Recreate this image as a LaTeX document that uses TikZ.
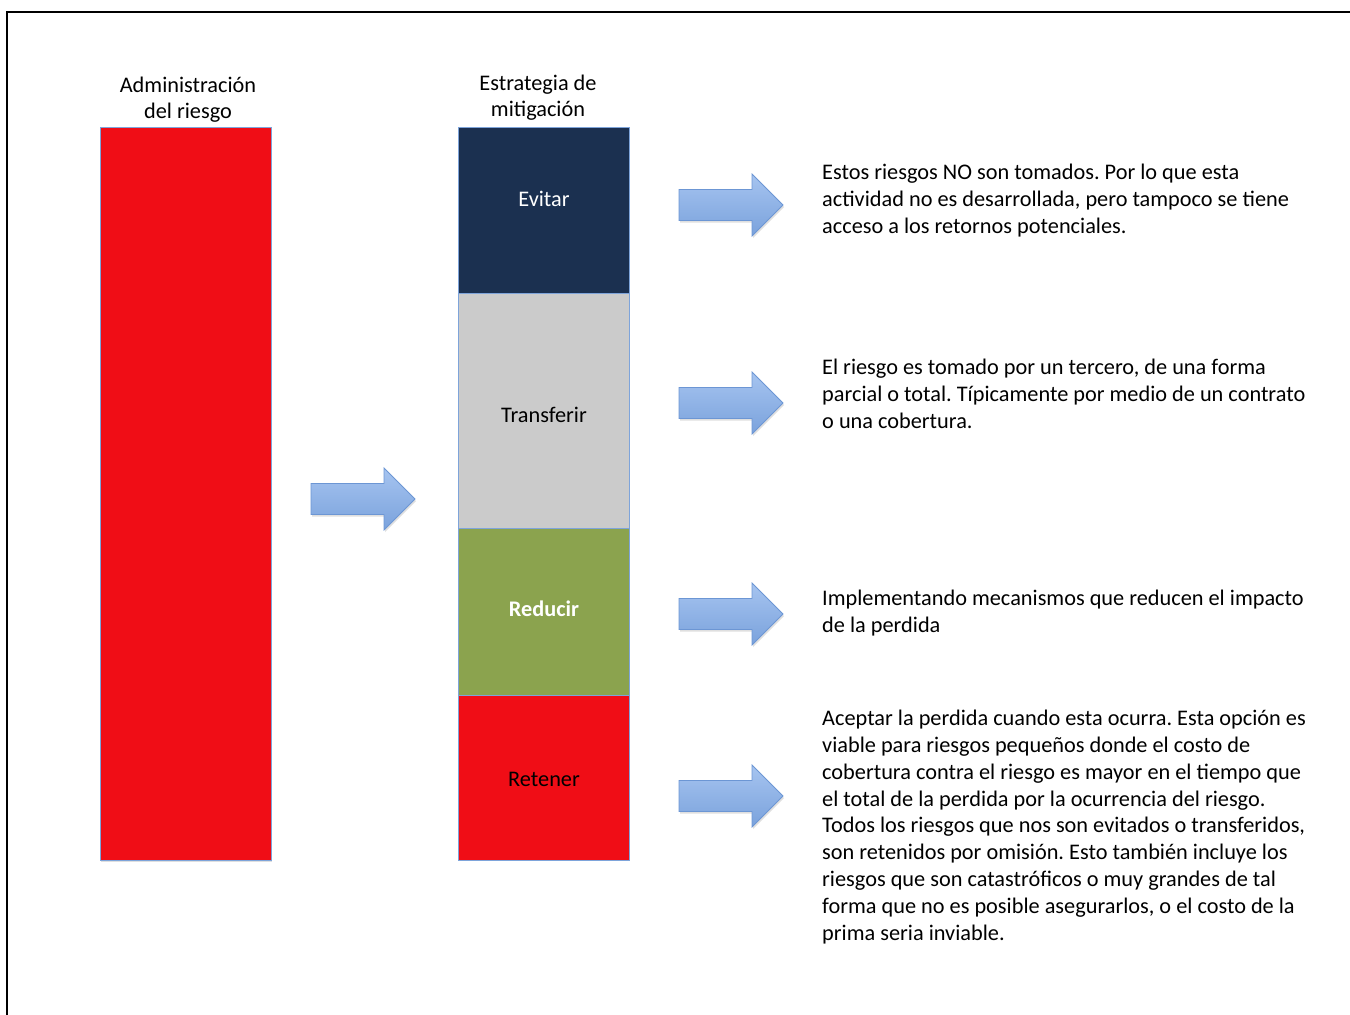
\documentclass[tikz,border=0pt]{standalone}
\usepackage{fontspec}
\setmainfont{Carlito}
\usetikzlibrary{shadows}
\frenchspacing
\definecolor{navybox}{RGB}{27,48,80}
\definecolor{graybox}{RGB}{203,203,203}
\definecolor{greenbox}{RGB}{139,163,78}
\definecolor{redbox}{RGB}{240,13,22}
\definecolor{boxedge}{RGB}{126,164,218}
\definecolor{arrowtop}{RGB}{166,196,240}
\definecolor{arrowbot}{RGB}{122,162,220}
\definecolor{arrowedge}{RGB}{108,150,212}
\tikzset{
  stackbox/.style={draw=boxedge, line width=1pt, minimum width=171pt, inner sep=0pt},
  shadowbox/.style={stackbox, drop shadow={opacity=0.25, shadow xshift=1pt, shadow yshift=-2pt}},
  boxlabel/.style={font=\fontsize{22.3}{26}\selectfont, inner sep=0pt},
  headlabel/.style={font=\fontsize{22.3}{26}\selectfont, align=center, inner sep=0pt},
  desc/.style={font=\fontsize{22.3}{26.8}\selectfont, align=left, anchor=north west, inner sep=0pt},
  blockarrow/.style={draw=arrowedge, line width=0.8pt, top color=arrowtop, bottom color=arrowbot,
    drop shadow={opacity=0.25, shadow xshift=1pt, shadow yshift=-2pt}},
  pics/fatarrow/.style={code={
    \path[blockarrow] (0,-15.5) -- (73,-15.5) -- (73,-31) -- (104,0) -- (73,31) -- (73,15.5) -- (0,15.5) -- cycle;
  }}
}
\begin{document}
\begin{tikzpicture}[x=1pt,y=-1pt]
\useasboundingbox (0,0) rectangle (1350,1015);
\draw[line width=2.5pt] (7,1016) -- (7,12) -- (1351,12);

% headings
\node[headlabel] (hadm) at (188,99.5) {Administración\\del riesgo};
\node[headlabel] (hest) at (538,97.5) {Estrategia de\\mitigación};

% big red box
\node[shadowbox, fill=redbox, minimum height=733pt] (adm) at (185.5,493.5) {};

% stack
\node[shadowbox, fill=navybox, minimum height=166pt] (evitar) at (543.5,210) {};
\node[stackbox, fill=graybox, minimum height=235pt] (transf) at (543.5,410.5) {};
\node[stackbox, fill=greenbox, minimum height=167pt] (reducir) at (543.5,611.5) {};
\node[stackbox, fill=redbox, minimum height=165pt] (retener) at (543.5,777.5) {};

\node[boxlabel, text=white] (levitar) at (544,199) {Evitar};
\node[boxlabel, text=black] (ltransf) at (544,415) {Transferir};
\node[boxlabel, text=white, font=\fontsize{22.3}{26}\selectfont\bfseries] (lreducir) at (544,609) {Reducir};
\node[boxlabel, text=black] (lretener) at (544,779) {Retener};

% arrows
\pic at (311,499) {fatarrow};
\pic at (679,205) {fatarrow};
\pic at (679,403) {fatarrow};
\pic at (679,614) {fatarrow};
\pic at (679,796) {fatarrow};

% descriptions
\node[desc] (d1) at (822,164) {Estos riesgos NO son tomados. Por lo que esta\\actividad no es desarrollada, pero tampoco se tiene\\acceso a los retornos potenciales.};
\node[desc] (d2) at (822,359) {El riesgo es tomado por un tercero, de una forma\\parcial o total. Típicamente por medio de un contrato\\o una cobertura.};
\node[desc] (d3) at (822,590) {Implementando mecanismos que reducen el impacto\\de la perdida};
\node[desc] (d4) at (822,710) {Aceptar la perdida cuando esta ocurra. Esta opción es\\viable para riesgos pequeños donde el costo de\\cobertura contra el riesgo es mayor en el tiempo que\\el total de la perdida por la ocurrencia del riesgo.\\Todos los riesgos que nos son evitados o transferidos,\\son retenidos por omisión. Esto también incluye los\\riesgos que son catastróficos o muy grandes de tal\\forma que no es posible asegurarlos, o el costo de la\\prima seria inviable.};
\end{tikzpicture}
\end{document}
